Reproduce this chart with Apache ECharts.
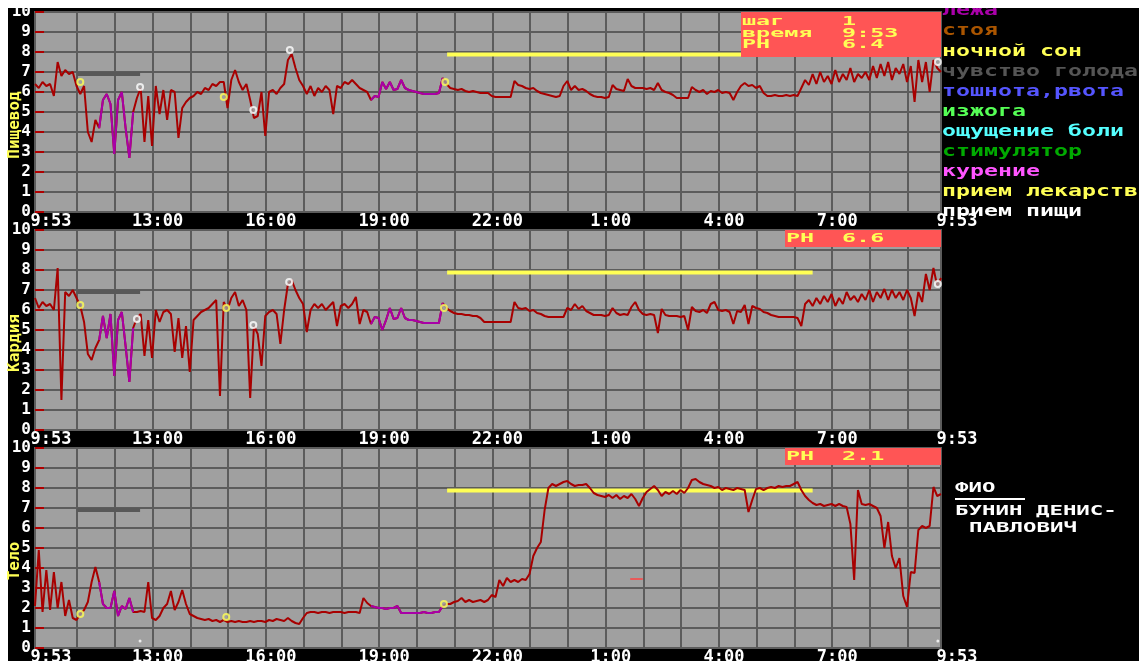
<!DOCTYPE html>
<html>
<head>
<meta charset="utf-8">
<script src="https://cdn.jsdelivr.net/npm/echarts@6/dist/echarts.min.js"></script>
<style>
html,body{margin:0;padding:0;background:#fff;}
#frame{position:absolute;left:8px;top:8px;width:1131px;height:653px;background:#000;}
#main{position:absolute;left:0;top:0;width:1147px;height:664px;}
</style>
</head>
<body>
<div id="frame"></div>
<div id="main"></div>
<script>
// время в минутах от полуночи, шаг записи 6 минут, старт 9:53
var startMin = 593, stepMin = 6, endMin = 2033;

// Пищевод
var esophagus = [
  6.4, 6.2, 6.5, 6.3, 6.4, 5.8, 7.5, 6.8, 7.1, 6.9,
  7.0, 6.3, 5.9, 6.3, 4.0, 3.5, 4.6, 4.2, 5.6, 5.9,
  5.4, 2.9, 5.6, 6.0, 4.2, 2.7, 5.0, 5.7, 6.2, 3.5,
  5.8, 3.3, 6.3, 4.9, 6.1, 4.6, 6.1, 6.0, 3.7, 5.2,
  5.5, 5.7, 5.8, 6.0, 5.9, 6.2, 6.1, 6.4, 6.3, 6.5,
  6.5, 5.2, 6.6, 7.1, 6.5, 6.1, 6.4, 5.6, 4.7, 4.8,
  6.0, 3.8, 6.0, 6.1, 5.9, 6.2, 6.4, 7.6, 7.9, 7.2,
  6.6, 6.3, 5.9, 6.3, 5.8, 6.2, 6.0, 6.3, 6.1, 4.9,
  6.3, 6.2, 6.5, 6.4, 6.6, 6.4, 6.2, 6.1, 6.0, 5.6,
  5.8, 5.75, 6.5, 6.15, 6.5, 6.1, 6.15, 6.6, 6.2, 6.1,
  6.05, 6.0, 5.95, 5.9, 5.9, 5.9, 5.9, 5.95, 6.7, 6.4,
  6.2, 6.15, 6.1, 6.15, 6.05, 6.0, 6.05, 6.0, 5.95, 5.95,
  5.95, 5.8, 5.75, 5.75, 5.75, 5.75, 5.75, 6.55, 6.35, 6.3,
  6.2, 6.15, 6.2, 6.05, 5.95, 5.9, 5.85, 5.8, 5.75, 5.8,
  6.3, 6.55, 6.1, 6.3, 6.1, 6.15, 6.05, 5.9, 5.8, 5.75,
  5.75, 5.7, 5.75, 6.35, 6.15, 6.1, 6.05, 6.65, 6.3, 6.2,
  6.2, 6.2, 6.15, 6.2, 6.1, 6.45, 6.1, 6.0, 5.95, 5.85,
  5.7, 5.7, 5.7, 5.7, 6.25, 6.1, 6.0, 6.1, 5.9, 6.05,
  6.0, 6.1, 5.95, 6.0, 5.95, 5.6, 6.0, 6.3, 6.45, 6.3,
  6.35, 6.2, 6.3, 5.95, 5.8, 5.8, 5.85, 5.8, 5.8, 5.85,
  5.8, 5.85, 5.8, 6.2, 6.6, 6.35, 6.9, 6.4, 7.0, 6.5,
  6.8, 6.4, 7.1, 6.5, 6.9, 6.6, 7.2, 6.5, 6.9, 6.7,
  7.0, 6.6, 7.3, 6.7, 7.4, 6.8, 7.5, 6.6, 7.2, 6.9,
  7.4, 6.5, 7.3, 5.5, 7.6, 6.5, 7.5, 6.0, 7.6, 7.2,
  7.0
];

// Кардия
var cardia = [
  6.6, 6.1, 6.4, 6.2, 6.3, 6.0, 8.1, 1.5, 6.9, 6.7,
  7.0, 6.6, 6.2, 5.4, 3.8, 3.5, 4.1, 4.5, 5.7, 4.6,
  5.8, 2.7, 5.5, 5.9, 4.2, 2.4, 5.1, 5.6, 5.8, 3.7,
  5.5, 3.6, 6.0, 5.4, 5.9, 6.0, 5.8, 3.9, 5.6, 3.6,
  5.2, 2.9, 5.5, 5.7, 5.9, 6.0, 6.1, 6.3, 6.5, 1.7,
  6.4, 6.0, 6.6, 6.9, 6.2, 6.5, 6.0, 1.6, 5.2, 4.8,
  3.2, 5.7, 5.9, 6.0, 5.8, 4.3, 6.0, 7.3, 7.5, 7.0,
  6.6, 6.3, 4.9, 6.0, 6.3, 6.1, 6.3, 6.0, 6.2, 6.4,
  5.2, 6.2, 6.3, 6.1, 6.3, 6.65, 5.3, 6.0, 5.9, 5.3,
  5.65, 5.6, 5.0, 5.5, 6.1, 5.55, 5.6, 6.1, 5.6, 5.5,
  5.5, 5.45, 5.4, 5.35, 5.35, 5.35, 5.35, 5.35, 6.35, 6.1,
  5.95, 5.85, 5.8, 5.8, 5.75, 5.75, 5.7, 5.7, 5.6, 5.4,
  5.4, 5.4, 5.4, 5.4, 5.4, 5.4, 5.4, 6.4, 6.1, 6.05,
  6.1, 5.95, 6.0, 5.85, 5.8, 5.7, 5.65, 5.65, 5.65, 5.65,
  5.65, 6.1, 6.0, 6.3, 6.05, 6.2, 5.95, 5.85, 5.75, 5.75,
  5.75, 5.7, 5.75, 6.1, 5.85, 5.75, 5.8, 5.75, 6.15, 6.4,
  6.0, 5.8, 5.75, 5.8, 5.75, 4.85, 6.05, 5.75, 5.7, 5.7,
  5.7, 5.65, 5.7, 5.0, 6.15, 5.95, 5.9, 6.0, 5.85, 6.3,
  6.4, 6.0, 5.95, 6.0, 5.9, 5.3, 5.95, 5.9, 6.25, 5.3,
  6.2, 6.1, 6.05, 5.9, 5.85, 5.75, 5.7, 5.65, 5.65, 5.65,
  5.65, 5.65, 5.6, 5.2, 6.3, 6.5, 6.2, 6.6, 6.3, 6.7,
  6.4, 6.8, 6.2, 6.6, 6.3, 6.9, 6.5, 6.7, 6.4, 6.8,
  6.5, 7.0, 6.4, 6.9, 6.6, 7.05, 6.5, 7.0, 6.6, 6.9,
  6.5, 7.0, 6.6, 5.7, 6.9, 6.4, 7.8, 7.0, 8.1, 7.2,
  7.6
];

// Тело
var corpus = [
  2.1, 4.9, 1.8, 3.9, 1.9, 3.8, 2.0, 3.3, 1.6, 2.4,
  1.5, 1.4, 1.7, 1.9, 2.3, 3.3, 4.05, 3.3, 2.2, 2.0,
  2.0, 2.85, 1.6, 2.1, 1.95, 2.5, 1.8, 1.8, 1.85, 1.8,
  3.3, 1.5, 1.4, 1.6, 2.0, 2.2, 2.85, 1.9, 2.3, 2.9,
  2.2, 1.7, 1.6, 1.5, 1.45, 1.4, 1.45, 1.35, 1.4, 1.3,
  1.4, 1.3, 1.35, 1.3, 1.35, 1.3, 1.3, 1.35, 1.3, 1.35,
  1.35, 1.3, 1.4, 1.35, 1.45, 1.4, 1.35, 1.5, 1.35, 1.25,
  1.2, 1.5, 1.75, 1.8, 1.8, 1.75, 1.8, 1.8, 1.75, 1.8,
  1.8, 1.8, 1.75, 1.8, 1.8, 1.8, 1.75, 2.5, 2.25, 2.1,
  2.05, 2.0, 2.0, 1.95, 2.0, 2.0, 2.1, 1.75, 1.75, 1.75,
  1.75, 1.75, 1.75, 1.8, 1.75, 1.75, 1.8, 1.8, 2.1, 2.2,
  2.2, 2.3, 2.35, 2.5, 2.3, 2.4, 2.3, 2.35, 2.4, 2.3,
  2.4, 2.65, 2.55, 3.4, 3.1, 3.5, 3.3, 3.4, 3.3, 3.45,
  3.4, 3.7, 4.6, 5.0, 5.3, 6.9, 8.0, 8.2, 8.1, 8.2,
  8.3, 8.35, 8.2, 8.1, 8.15, 8.15, 8.2, 8.0, 7.75, 7.65,
  7.6, 7.55, 7.65, 7.5, 7.65, 7.45, 7.6, 7.5, 7.7, 7.45,
  7.1, 7.5, 7.8, 7.95, 8.1, 7.9, 7.6, 7.8, 7.7, 7.85,
  7.7, 7.9, 7.75, 8.0, 8.4, 8.45, 8.3, 8.2, 8.15, 8.1,
  8.0, 8.05, 7.9, 8.0, 7.95, 7.9, 8.0, 7.95, 7.9, 6.8,
  7.4, 7.95, 8.0, 7.9, 8.0, 8.05, 8.0, 8.1, 8.05, 8.1,
  8.1, 8.2, 8.3, 7.9, 7.6, 7.4, 7.25, 7.15, 7.2, 7.1,
  7.15, 7.2, 7.1, 7.2, 7.1, 7.05, 6.2, 3.4, 7.9, 7.2,
  7.15, 7.2, 7.1, 7.0, 6.6, 5.0, 6.3, 4.6, 4.0, 4.5,
  2.6, 2.05, 3.8, 3.75, 5.9, 6.1, 6.0, 6.1, 8.05, 7.6,
  7.7
];

var traces = [esophagus, cardia, corpus];
var panelNames = ['Пищевод', 'Кардия', 'Тело'];
var boxPH = ['6.4', '6.6', '2.1'];

// периоды "лежа" (минуты)
var lying = [[695, 749], [1127, 1241]];
// ночной сон: начало, конец, уровень метки
var sleep = [1248, 1829, 7.88];
// чувство голода
var hunger = [660, 760, 6.9];

// события: прием лекарств (желтые), прием пищи (белые)
var drugMarks = [
  [[665, 6.5], [893, 5.75], [1245, 6.5]],
  [[665, 6.25], [897, 6.1], [1243, 6.1]],
  [[665, 1.7], [897, 1.55], [1243, 2.2]]
];
var foodMarks = [
  [[760, 6.25], [940, 5.1], [998, 8.1], [2028, 7.5]],
  [[755, 5.55], [940, 5.25], [997, 7.4], [2028, 7.3]],
  [[760, 0.35], [2028, 0.35]]
];
var stray = [[1539, 3.45], [1559, 3.45]];

var hourTicks = [660, 720, 780, 840, 900, 960, 1020, 1080, 1140, 1200, 1260, 1320,
  1380, 1440, 1500, 1560, 1620, 1680, 1740, 1800, 1860, 1920, 1980];
var xLabelValues = [593, 780, 960, 1140, 1320, 1500, 1680, 1860, 2033];

var eventNames = ['лежа', 'стоя', 'ночной сон', 'чувство голода', 'тошнота,рвота', 'изжога',
  'ощущение боли', 'стимулятор', 'курение', 'прием лекарств', 'прием пищи'];
var eventColors = ['#aa00aa', '#aa5500', '#ffff55', '#555555', '#5555ff', '#55ff55',
  '#55ffff', '#00aa00', '#ff55ff', '#ffff55', '#ffffff'];

var RED = '#a80000', PURPLE = '#a800a8', GRIDC = '#5c5c5c';
var MONO = 'DejaVu Sans Mono';
var tops = [12, 230, 448];

function pairs(arr) {
  return arr.map(function (v, i) { return [startMin + i * stepMin, v]; });
}
// только точки внутри периодов "лежа", остальные разрывают линию
function lyingPairs(arr) {
  return pairs(arr).map(function (p) {
    var inside = lying.some(function (r) { return p[0] >= r[0] && p[0] <= r[1]; });
    return inside ? p : [p[0], null];
  });
}
function clock(v) {
  var m = Math.round(v);
  var h = Math.floor(m / 60) % 24, mm = m % 60;
  return h + ':' + (mm < 10 ? '0' : '') + mm;
}

var grids = [], xAxes = [], yAxes = [], series = [];
for (var k = 0; k < 3; k++) {
  grids.push({
    left: 35, top: tops[k], width: 906, height: 200,
    containLabel: false, outerBoundsMode: 'none',
    show: true, backgroundColor: '#a0a0a0', borderColor: GRIDC, borderWidth: 2
  });
  xAxes.push({
    type: 'value', gridIndex: k, min: startMin, max: endMin,
    axisLine: { show: false },
    axisTick: { show: false, customValues: hourTicks },
    splitLine: { show: true, lineStyle: { color: GRIDC, width: 2 } },
    axisLabel: {
      customValues: xLabelValues, margin: 1, color: '#fff',
      fontFamily: MONO, fontWeight: 'bold', fontSize: 17,
      formatter: function (v) {
        var t = clock(v);
        return (v === startMin || v === endMin) ? '{e|' + t + '}' : '{m|' + t + '}';
      },
      rich: {
        e: { color: '#fff', fontFamily: MONO, fontWeight: 'bold', fontSize: 17, padding: [0, 0, 0, 32] },
        m: { color: '#fff', fontFamily: MONO, fontWeight: 'bold', fontSize: 17, padding: [0, 0, 0, 10] }
      }
    }
  });
  yAxes.push({
    type: 'value', gridIndex: k, min: 0, max: 10, interval: 1,
    axisLine: { show: false },
    axisTick: { show: true, inside: true, length: 9, lineStyle: { color: '#b00000', width: 2 } },
    splitLine: { show: true, lineStyle: { color: GRIDC, width: 2 } },
    axisLabel: { color: '#fff', fontFamily: MONO, fontWeight: 'bold', fontSize: 16, margin: 4 },
    name: panelNames[k], nameLocation: 'middle', nameRotate: 90, nameGap: 12, nameMoveOverlap: false,
    nameTextStyle: { color: '#ffff55', fontFamily: MONO, fontWeight: 'bold', fontSize: 16, padding: [0, 26, 0, 0] }
  });
}

// метки сна и голода
for (k = 0; k < 3; k++) {
  series.push({
    name: 'ночной сон', type: 'line', xAxisIndex: k, yAxisIndex: k, symbol: 'none', silent: true,
    data: [[sleep[0], sleep[2]], [sleep[1], sleep[2]]],
    lineStyle: { color: '#ffff55', width: 4 }
  });
  series.push({
    name: 'чувство голода', type: 'line', xAxisIndex: k, yAxisIndex: k, symbol: 'none', silent: true,
    data: [[hunger[0], hunger[2]], [hunger[1], hunger[2]]],
    lineStyle: { color: '#585858', width: 4 }
  });
}
series.push({
  type: 'line', xAxisIndex: 2, yAxisIndex: 2, symbol: 'none', data: stray,
  lineStyle: { color: '#e85a5a', width: 2 }
});
for (k = 0; k < 3; k++) {
  series.push({
    name: panelNames[k], type: 'line', xAxisIndex: k, yAxisIndex: k,
    data: pairs(traces[k]), symbol: 'none', lineStyle: { color: RED, width: 2 }, z: 3
  });
  series.push({
    name: 'лежа', type: 'line', xAxisIndex: k, yAxisIndex: k, connectNulls: false,
    data: lyingPairs(traces[k]), symbol: 'none', lineStyle: { color: PURPLE, width: 2 }, z: 3
  });
}
for (k = 0; k < 3; k++) {
  series.push({
    name: 'прием лекарств', type: 'scatter', xAxisIndex: k, yAxisIndex: k, data: drugMarks[k],
    symbol: 'circle', symbolSize: 6, z: 4,
    itemStyle: { color: '#a0a0a0', borderColor: '#ffff55', borderWidth: 2 }
  });
  series.push({
    name: 'прием пищи', type: 'scatter', xAxisIndex: k, yAxisIndex: k, data: foodMarks[k],
    symbol: 'circle', symbolSize: k === 2 ? 3 : 6, z: 4,
    itemStyle: { color: k === 2 ? '#fff' : '#a0a0a0', borderColor: '#fff', borderWidth: k === 2 ? 0 : 2 }
  });
}

function txt(x, y, s, color, size, sx) {
  return {
    type: 'text', x: x, y: y, scaleX: sx, z: 50,
    style: { text: s, fill: color, font: 'bold ' + size + 'px "' + MONO + '"', align: 'left', verticalAlign: 'middle' }
  };
}
var gfx = [];
// блоки значений рН
gfx.push({ type: 'rect', z: 40, shape: { x: 741, y: 12, width: 200, height: 45 }, style: { fill: '#ff5555' } });
gfx.push(txt(742, 22, 'шаг', '#ffff55', 13, 1.8));
gfx.push(txt(842, 22, '1', '#ffff55', 13, 1.8));
gfx.push(txt(742, 34, 'время', '#ffff55', 13, 1.8));
gfx.push(txt(842, 34, '9:53', '#ffff55', 13, 1.8));
gfx.push(txt(742, 45, 'PH', '#ffff55', 13, 1.8));
gfx.push(txt(842, 45, boxPH[0], '#ffff55', 13, 1.8));
for (k = 1; k < 3; k++) {
  gfx.push({ type: 'rect', z: 40, shape: { x: 785, y: tops[k], width: 156, height: 17 }, style: { fill: '#ff5555' } });
  gfx.push(txt(786, tops[k] + 9, 'PH', '#ffff55', 13, 1.8));
  gfx.push(txt(842, tops[k] + 9, boxPH[k], '#ffff55', 13, 1.8));
}
// список событий
for (var i = 0; i < eventNames.length; i++) {
  gfx.push(txt(942, 11.5 + 20.1 * i, eventNames[i], eventColors[i], 15, 1.55));
}
// ФИО
gfx.push(txt(955, 488, 'ФИО', '#fff', 14, 1.6));
gfx.push({ type: 'line', z: 50, shape: { x1: 955, y1: 499, x2: 1025, y2: 499 }, style: { stroke: '#fff', lineWidth: 2 } });
gfx.push(txt(955, 511, 'БУНИН ДЕНИС-', '#fff', 14, 1.6));
gfx.push(txt(969, 528, 'ПАВЛОВИЧ', '#fff', 14, 1.6));
// белая кромка сверху
gfx.push({ type: 'rect', z: 100, shape: { x: 0, y: 0, width: 1147, height: 8 }, style: { fill: '#fff' } });

var chart = echarts.init(document.getElementById('main'));
chart.setOption({
  backgroundColor: 'transparent',
  animation: false,
  grid: grids,
  xAxis: xAxes,
  yAxis: yAxes,
  series: series,
  graphic: gfx
});
</script>
</body>
</html>
